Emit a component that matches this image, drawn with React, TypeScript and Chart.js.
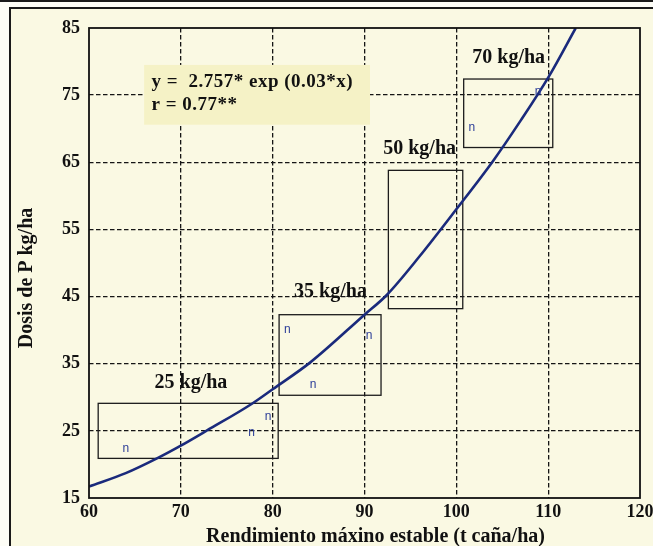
import React, { useEffect, useRef } from "react";
import { Chart, registerables } from "chart.js";

Chart.register(...registerables);

// ---- data ----
const xMin = 60;
const xMax = 120;
const yMin = 15;
const yMax = 85;
const tickStep = 10;

// fitted curve y = 2.757*exp(0.03x), points read as drawn
const curveX = [60, 64.0, 67.4, 70.0, 72.9, 77.7, 80.0, 84.1, 90.0, 92.4, 96.0, 100.0, 104.0, 107.0, 110.0, 113.0];
const curveY = [16.7, 18.7, 20.9, 22.8, 25.1, 29.0, 31.2, 35.2, 42.3, 45.2, 51.0, 58.0, 65.2, 71.2, 77.6, 85.0];

// observations ("n" markers)
const obsX = [64.0, 79.5, 77.7, 81.6, 84.4, 90.5, 101.7, 108.9];
const obsY = [22.3, 27.1, 24.7, 40.0, 31.9, 39.2, 70.1, 75.5];
const obsMarker = "n";

// dose groups (boxes)
const groupLabels = ["25 kg/ha", "35 kg/ha", "50 kg/ha", "70 kg/ha"];
const groupXMin = [61.0, 80.7, 92.6, 100.8];
const groupXMax = [80.6, 91.8, 100.7, 110.5];
const groupYMin = [20.9, 30.3, 43.2, 67.2];
const groupYMax = [29.1, 42.3, 63.8, 77.4];
const groupLabelX = [71.1, 86.3, 96.0, 105.7];
const groupLabelY = [32.2, 45.7, 67.0, 80.5];

// equation annotation
const equationLines = ["y =  2.757* exp (0.03*x)", "r = 0.77**"];
const equationBoxX = [66.0, 90.6];
const equationBoxY = [70.6, 79.5];
const equationTextX = 66.8;
const equationLineY = [76.9, 73.5];

const xTitle = "Rendimiento máxino estable (t caña/ha)";
const yTitle = "Dosis de P kg/ha";

// ---- styles ----
const BG = "#faf9e3";
const EQ_BG = "#f5f2c6";
const INK = "#111111";
const CURVE = "#1a2a7c";
const MARK = "#2b3d98";
const SERIF = "'Liberation Serif', 'Times New Roman', serif";

export default function App() {
  const ref = useRef<HTMLCanvasElement>(null);

  useEffect(() => {
    document.body.style.margin = "0";
    const canvas = ref.current;
    if (!canvas) return;

    const plugin = {
      id: "decor",
      beforeDraw(chart: any) {
        const ctx = chart.ctx;
        ctx.save();
        ctx.fillStyle = "#fdfdf6";
        ctx.fillRect(0, 0, chart.width, chart.height);
        ctx.fillStyle = BG;
        ctx.fillRect(11, 9, chart.width, chart.height);
        ctx.fillStyle = "#1a1a1a";
        ctx.fillRect(0, 0, chart.width, 2);
        ctx.fillRect(9, 7, chart.width, 2);
        ctx.fillRect(9, 7, 2, chart.height);
        ctx.restore();
      },
      beforeDatasetsDraw(chart: any) {
        const ctx = chart.ctx;
        const xs = chart.scales.x;
        const ys = chart.scales.y;
        ctx.save();
        // equation box
        const ex0 = xs.getPixelForValue(equationBoxX[0]);
        const ex1 = xs.getPixelForValue(equationBoxX[1]);
        const ey0 = ys.getPixelForValue(equationBoxY[1]);
        const ey1 = ys.getPixelForValue(equationBoxY[0]);
        ctx.fillStyle = EQ_BG;
        ctx.fillRect(ex0, ey0, ex1 - ex0, ey1 - ey0);
        ctx.fillStyle = INK;
        ctx.font = `bold 19px ${SERIF}`;
        (ctx as any).letterSpacing = "0.5px";
        ctx.textAlign = "left";
        ctx.textBaseline = "middle";
        equationLines.forEach((t, i) => {
          ctx.fillText(t, xs.getPixelForValue(equationTextX), ys.getPixelForValue(equationLineY[i]));
        });
        (ctx as any).letterSpacing = "0px";
        // group boxes
        ctx.strokeStyle = "#1c1c1c";
        ctx.lineWidth = 1.3;
        groupLabels.forEach((_, i) => {
          const x0 = xs.getPixelForValue(groupXMin[i]);
          const x1 = xs.getPixelForValue(groupXMax[i]);
          const y0 = ys.getPixelForValue(groupYMax[i]);
          const y1 = ys.getPixelForValue(groupYMin[i]);
          ctx.strokeRect(x0, y0, x1 - x0, y1 - y0);
        });
        ctx.restore();
      },
      afterDatasetsDraw(chart: any) {
        const ctx = chart.ctx;
        const xs = chart.scales.x;
        const ys = chart.scales.y;
        const area = chart.chartArea;
        ctx.save();
        // observation markers
        ctx.fillStyle = MARK;
        ctx.font = "12px 'Liberation Sans', Arial, sans-serif";
        ctx.textAlign = "center";
        ctx.textBaseline = "middle";
        const meta = chart.getDatasetMeta(1);
        meta.data.forEach((pt: any) => ctx.fillText(obsMarker, pt.x, pt.y));
        // group labels
        ctx.fillStyle = INK;
        ctx.font = `bold 20px ${SERIF}`;
        groupLabels.forEach((t, i) => {
          ctx.fillText(t, xs.getPixelForValue(groupLabelX[i]), ys.getPixelForValue(groupLabelY[i]));
        });
        // plot frame
        ctx.strokeStyle = INK;
        ctx.lineWidth = 1.8;
        ctx.strokeRect(area.left, area.top, area.right - area.left, area.bottom - area.top);
        // axis titles
        ctx.fillStyle = INK;
        ctx.font = `bold 20px ${SERIF}`;
        ctx.textAlign = "center";
        ctx.textBaseline = "alphabetic";
        ctx.fillText(xTitle, area.left + (area.right - area.left) / 2 + 11, 542);
        ctx.translate(32, area.top + (area.bottom - area.top) / 2 + 15);
        ctx.rotate(-Math.PI / 2);
        ctx.fillText(yTitle, 0, 0);
        ctx.restore();
      },
    };

    const gridColor = (edgeA: number, edgeB: number) => (c: any) =>
      c.tick && (c.tick.value === edgeA || c.tick.value === edgeB) ? "rgba(0,0,0,0)" : "#151515";

    const chart = new Chart(canvas, {
      type: "scatter",
      data: {
        datasets: [
          {
            label: "curve",
            data: curveX.map((x, i) => ({ x, y: curveY[i] })),
            showLine: true,
            borderColor: CURVE,
            borderWidth: 2.6,
            pointRadius: 0,
            cubicInterpolationMode: "monotone",
            fill: false,
          } as any,
          {
            label: "obs",
            data: obsX.map((x, i) => ({ x, y: obsY[i] })),
            pointRadius: 0,
            showLine: false,
          },
        ],
      },
      options: {
        responsive: false,
        animation: false,
        devicePixelRatio: 1,
        events: [],
        layout: { padding: { top: 28, right: 13, bottom: 0, left: 0 } },
        plugins: { legend: { display: false }, tooltip: { enabled: false }, title: { display: false } },
        scales: {
          x: {
            type: "linear",
            min: xMin,
            max: xMax,
            ticks: {
              stepSize: tickStep,
              color: INK,
              font: { family: SERIF, size: 18, weight: "bold" },
              padding: 4,
              maxRotation: 0,
              autoSkip: false,
            },
            grid: { color: gridColor(xMin, xMax), lineWidth: 1.3, drawTicks: false },
            border: { display: false, dash: [4.5, 2.5] },
            afterFit(axis: any) {
              axis.height = 48;
              axis.paddingLeft = 0;
              axis.paddingRight = 0;
            },
          },
          y: {
            type: "linear",
            min: yMin,
            max: yMax,
            ticks: {
              stepSize: tickStep,
              color: INK,
              font: { family: SERIF, size: 18, weight: "bold" },
              padding: 9,
              autoSkip: false,
            },
            grid: { color: gridColor(yMin, yMax), lineWidth: 1.3, drawTicks: false },
            border: { display: false, dash: [4.5, 2.5] },
            afterFit(axis: any) {
              axis.width = 89;
              axis.paddingTop = 0;
              axis.paddingBottom = 0;
            },
          },
        },
      } as any,
      plugins: [plugin],
    });

    return () => chart.destroy();
  }, []);

  return (
    <div style={{ position: "absolute", left: 0, top: 0, width: 653, height: 546 }}>
      <canvas ref={ref} width={653} height={546} style={{ display: "block", width: 653, height: 546 }} />
    </div>
  );
}
